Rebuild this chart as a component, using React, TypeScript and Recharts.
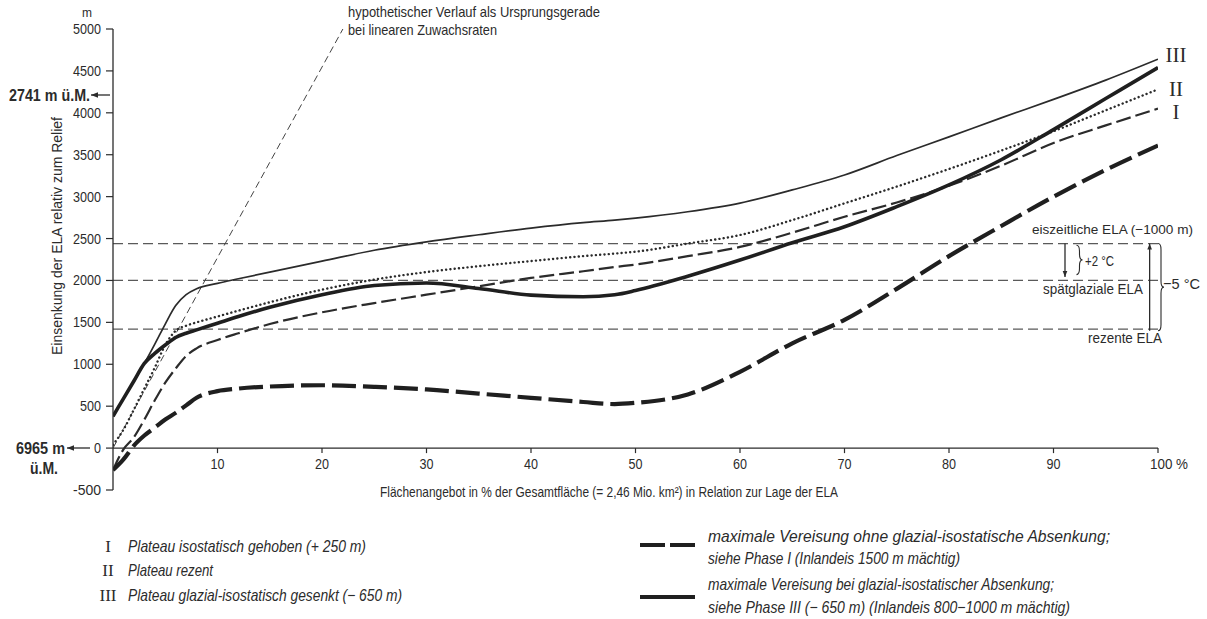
import React from 'react';
import { LineChart, Line, XAxis, YAxis, ReferenceLine, ReferenceDot } from 'recharts';

// Flächenangebot in % (x positions shared by all curves)
const pct = [0, 1, 2, 3, 4, 5, 6, 7, 8, 10, 12, 15, 20, 25, 30, 35, 40, 45, 48, 50, 55, 60, 65, 70, 75, 80, 85, 90, 95, 100];

// I  Plateau isostatisch gehoben (+250 m)
const plateauGehoben = [-262, -15, 130, 340, 570, 780, 950, 1100, 1190, 1290, 1370, 1480, 1620, 1730, 1830, 1930, 2030, 2110, 2160, 2190, 2290, 2400, 2570, 2760, 2930, 3130, 3370, 3640, 3850, 4050];
// II  Plateau rezent
const plateauRezent = [40, 220, 460, 710, 960, 1230, 1400, 1460, 1500, 1570, 1640, 1740, 1890, 2010, 2100, 2170, 2231, 2290, 2320, 2343, 2440, 2542, 2720, 2920, 3120, 3330, 3550, 3780, 4030, 4280];
// III  Plateau glazial-isostatisch gesenkt (-650 m)
const plateauGesenkt = [380, 590, 800, 1010, 1240, 1480, 1700, 1830, 1900, 1965, 2020, 2100, 2230, 2360, 2460, 2545, 2625, 2690, 2720, 2744, 2820, 2923, 3080, 3258, 3490, 3713, 3940, 4160, 4390, 4640];
// maximale Vereisung ohne glazial-isostatische Absenkung
const vereisungOhne = [-262, -135, 30, 150, 245, 340, 420, 510, 600, 680, 710, 735, 750, 730, 700, 650, 600, 550, 525, 540, 640, 910, 1250, 1530, 1900, 2290, 2650, 3000, 3320, 3610];
// maximale Vereisung bei glazial-isostatischer Absenkung
const vereisungBei = [380, 590, 800, 1010, 1130, 1230, 1320, 1370, 1410, 1490, 1570, 1680, 1830, 1940, 1970, 1905, 1825, 1805, 1830, 1880, 2050, 2243, 2450, 2641, 2880, 3140, 3440, 3800, 4170, 4540];

// hypothetische Ursprungsgerade
const hypoPct = [0, 22];
const hypoValue = [0, 5000];

// ELA levels
const elaEiszeit = 2440;
const elaSpaet = 2000;
const elaRezent = 1420;

const yTicks = [-500, 0, 500, 1000, 1500, 2000, 2500, 3000, 3500, 4000, 4500, 5000];
const xTicks = [10, 20, 30, 40, 50, 60, 70, 80, 90, 100];
const xTickLabels = ['10', '20', '30', '40', '50', '60', '70', '80', '90', '100 %'];

const rows = pct.map((p, i) => ({
  pct: p,
  gehoben: plateauGehoben[i],
  rezent: plateauRezent[i],
  gesenkt: plateauGesenkt[i],
  ohne: vereisungOhne[i],
  bei: vereisungBei[i],
}));
const hypoRows = hypoPct.map((p, i) => ({ pct: p, hypo: hypoValue[i] }));

const FONT = "'Liberation Sans', Arial, sans-serif";
const SERIF = "'Liberation Serif', 'DejaVu Serif', serif";
const INK = '#2b2b2b';

// condensed text: squeeze a normal sans to the width measured in the reference
const T = ({ x, y, w, size = 15, anchor = 'start', bold = false, italic = false, rotate, children }: any) => (
  <text
    x={x}
    y={y}
    fontSize={size}
    fontFamily={FONT}
    fill={INK}
    fontWeight={bold ? 700 : 400}
    fontStyle={italic ? 'italic' : 'normal'}
    textAnchor={anchor}
    textLength={w}
    lengthAdjust="spacingAndGlyphs"
    transform={rotate ? `rotate(${rotate} ${x} ${y})` : undefined}
  >
    {children}
  </text>
);

const arrowPath = (x1: number, y1: number, x2: number, y2: number, head = 6) => {
  const a = Math.atan2(y2 - y1, x2 - x1);
  const hx1 = x2 - head * Math.cos(a) + (head / 2.6) * Math.sin(a);
  const hy1 = y2 - head * Math.sin(a) - (head / 2.6) * Math.cos(a);
  const hx2 = x2 - head * Math.cos(a) - (head / 2.6) * Math.sin(a);
  const hy2 = y2 - head * Math.sin(a) + (head / 2.6) * Math.cos(a);
  return (
    <g>
      <line x1={x1} y1={y1} x2={x2} y2={y2} stroke={INK} strokeWidth={1.3} />
      <polygon points={`${x2},${y2} ${hx1},${hy1} ${hx2},${hy2}`} fill={INK} />
    </g>
  );
};

const bracePath = (x: number, ya: number, yb: number, w: number) => {
  const y1 = Math.min(ya, yb);
  const y2 = Math.max(ya, yb);
  const ym = (y1 + y2) / 2;
  const r = Math.min(6, (y2 - y1) / 4);
  return `M${x},${y1} Q${x + w},${y1} ${x + w},${y1 + r} L${x + w},${ym - r} Q${x + w},${ym} ${x + 2 * w},${ym} Q${x + w},${ym} ${x + w},${ym + r} L${x + w},${y2 - r} Q${x + w},${y2} ${x},${y2}`;
};

const YTick = (p: any) => {
  const label = String(p.payload.value);
  return (
    <T x={p.x} y={p.y + 5} w={label.length * 7} anchor="end" size={15}>
      {label}
    </T>
  );
};

export default function App() {
  const last = pct.length - 1;
  return (
    <div style={{ position: 'absolute', left: 0, top: 0, width: 1207, height: 619, background: '#fff' }}>
      <LineChart width={1207} height={619} data={rows} margin={{ top: 29, right: 49, bottom: 129, left: 53 }}>
        <XAxis type="number" dataKey="pct" domain={[0, 100]} hide allowDataOverflow />
        <YAxis
          type="number"
          domain={[-500, 5000]}
          ticks={yTicks}
          interval={0}
          width={60}
          tickSize={7}
          tickMargin={5}
          allowDataOverflow
          axisLine={{ stroke: INK, strokeWidth: 1.3 }}
          tickLine={{ stroke: INK, strokeWidth: 1.2 }}
          tick={YTick}
        />

        {[elaEiszeit, elaSpaet, elaRezent].map((v) => (
          <ReferenceLine key={v} y={v} stroke="#5a5a5a" strokeWidth={1.2} strokeDasharray="10 5" />
        ))}
        <ReferenceLine y={0} stroke={INK} strokeWidth={1.3} />
        {xTicks.map((t, i) => (
          <ReferenceLine
            key={'t' + t}
            segment={[{ x: t, y: 0 }, { x: t, y: -60 }]}
            shape={(p: any) => (
              <g>
                <line x1={p.x1} y1={p.y1} x2={p.x2} y2={p.y2} stroke={INK} strokeWidth={1.2} />
                <T
                  x={t === 100 ? p.x1 - 8 : p.x1}
                  y={p.y1 + 21}
                  w={t === 100 ? 38 : 14}
                  anchor={t === 100 ? 'start' : 'middle'}
                  size={15}
                >
                  {xTickLabels[i]}
                </T>
              </g>
            )}
          />
        ))}

        {/* temperature arrows and braces */}
        <ReferenceLine
          segment={[{ x: 91.1, y: elaEiszeit }, { x: 91.1, y: elaSpaet + 40 }]}
          shape={(p: any) => arrowPath(p.x1, p.y1, p.x2, p.y2)}
        />
        <ReferenceLine
          segment={[{ x: 99.2, y: elaRezent - 20 }, { x: 99.2, y: elaEiszeit }]}
          shape={(p: any) => arrowPath(p.x1, p.y1, p.x2, p.y2)}
        />
        <ReferenceLine
          segment={[{ x: 92.2, y: elaEiszeit - 20 }, { x: 92.2, y: elaSpaet + 70 }]}
          shape={(p: any) => <path d={bracePath(p.x1, p.y1, p.y2, 3)} fill="none" stroke={INK} strokeWidth={1.1} />}
        />
        <ReferenceLine
          segment={[{ x: 100, y: elaEiszeit }, { x: 100, y: elaRezent - 20 }]}
          shape={(p: any) => <path d={bracePath(p.x1, p.y1, p.y2, 3)} fill="none" stroke={INK} strokeWidth={1.1} />}
        />

        <Line data={hypoRows} dataKey="hypo" type="linear" stroke="#444" strokeWidth={1} strokeDasharray="7 4" dot={false} isAnimationActive={false} />
        <Line dataKey="gehoben" type="monotone" stroke={INK} strokeWidth={2.2} strokeDasharray="15 5" dot={false} isAnimationActive={false} />
        <Line dataKey="rezent" type="monotone" stroke={INK} strokeWidth={2.4} strokeDasharray="0.1 4.2" strokeLinecap="round" dot={false} isAnimationActive={false} />
        <Line dataKey="gesenkt" type="monotone" stroke={INK} strokeWidth={1.7} dot={false} isAnimationActive={false} />
        <Line dataKey="ohne" type="monotone" stroke="#1f1f1f" strokeWidth={4.2} strokeDasharray="24 7" dot={false} isAnimationActive={false} />
        <Line dataKey="bei" type="monotone" stroke="#1f1f1f" strokeWidth={3.6} dot={false} isAnimationActive={false} />

        <ReferenceDot x={100} y={plateauGesenkt[last]} shape={(p: any) => (
          <text x={p.cx + 18} y={p.cy + 3} textAnchor="middle" fontSize={21} fontFamily={SERIF} fill={INK}>III</text>
        )} />
        <ReferenceDot x={100} y={plateauRezent[last]} shape={(p: any) => (
          <text x={p.cx + 18} y={p.cy + 7} textAnchor="middle" fontSize={21} fontFamily={SERIF} fill={INK}>II</text>
        )} />
        <ReferenceDot x={100} y={plateauGehoben[last]} shape={(p: any) => (
          <text x={p.cx + 18} y={p.cy + 10} textAnchor="middle" fontSize={21} fontFamily={SERIF} fill={INK}>I</text>
        )} />
      </LineChart>

      <svg width={1207} height={619} style={{ position: 'absolute', left: 0, top: 0, pointerEvents: 'none' }}>
        {/* axis annotations */}
        <T x={87} y={17} w={10} anchor="middle" size={13}>m</T>
        <T x={62} y={236} w={238} anchor="middle" size={14} rotate={-90}>Einsenkung der ELA relativ zum Relief</T>
        <T x={380} y={497} w={458} size={15}>Flächenangebot in % der Gesamtfläche (= 2,46 Mio. km²) in Relation zur Lage der ELA</T>
        <T x={348} y={17} w={252} size={14.5}>hypothetischer Verlauf als Ursprungsgerade</T>
        <T x={348} y={35} w={149} size={14.5}>bei linearen Zuwachsraten</T>

        {/* left elevation marks */}
        <T x={9} y={101} w={81} size={16} bold>2741 m ü.M.</T>
        {arrowPath(110, 95, 91, 95, 7)}
        <T x={16} y={454} w={49} size={16} bold>6965 m</T>
        <T x={30} y={474} w={28} size={16} bold>ü.M.</T>
        {arrowPath(90, 448, 67, 448, 7)}

        {/* ELA labels */}
        <T x={1032} y={234} w={161} size={13.5}>eiszeitliche ELA (−1000 m)</T>
        <T x={1085} y={266} w={29} size={15.5}>+2 °C</T>
        <T x={1043} y={294} w={100} size={15}>spätglaziale ELA</T>
        <T x={1088} y={343} w={74} size={15}>rezente ELA</T>
        <T x={1200} y={289} w={37} size={15.5} anchor="end">−5 °C</T>

        {/* legend left */}
        <text x={108} y={552} textAnchor="middle" fontSize={17} fontFamily={SERIF} fill={INK}>I</text>
        <text x={108} y={576} textAnchor="middle" fontSize={17} fontFamily={SERIF} fill={INK}>II</text>
        <text x={108} y={601} textAnchor="middle" fontSize={17} fontFamily={SERIF} fill={INK}>III</text>
        <T x={128} y={552} w={238} size={16.5} italic>Plateau isostatisch gehoben (+ 250 m)</T>
        <T x={128} y={576} w={85} size={16.5} italic>Plateau rezent</T>
        <T x={128} y={601} w={274} size={16.5} italic>Plateau glazial-isostatisch gesenkt (− 650 m)</T>

        {/* legend right */}
        <line x1={640} y1={545} x2={695} y2={545} stroke="#1f1f1f" strokeWidth={4.2} strokeDasharray="25 5" />
        <line x1={640} y1={597} x2={695} y2={597} stroke="#1f1f1f" strokeWidth={4} />
        <T x={708} y={542} w={402} size={16.5} italic>maximale Vereisung ohne glazial-isostatische Absenkung;</T>
        <T x={708} y={564} w={252} size={16.5} italic>siehe Phase I (Inlandeis 1500 m mächtig)</T>
        <T x={708} y={590} w={346} size={16.5} italic>maximale Vereisung bei glazial-isostatischer Absenkung;</T>
        <T x={708} y={613} w={362} size={16.5} italic>siehe Phase III (− 650 m) (Inlandeis 800−1000 m mächtig)</T>
      </svg>
    </div>
  );
}
